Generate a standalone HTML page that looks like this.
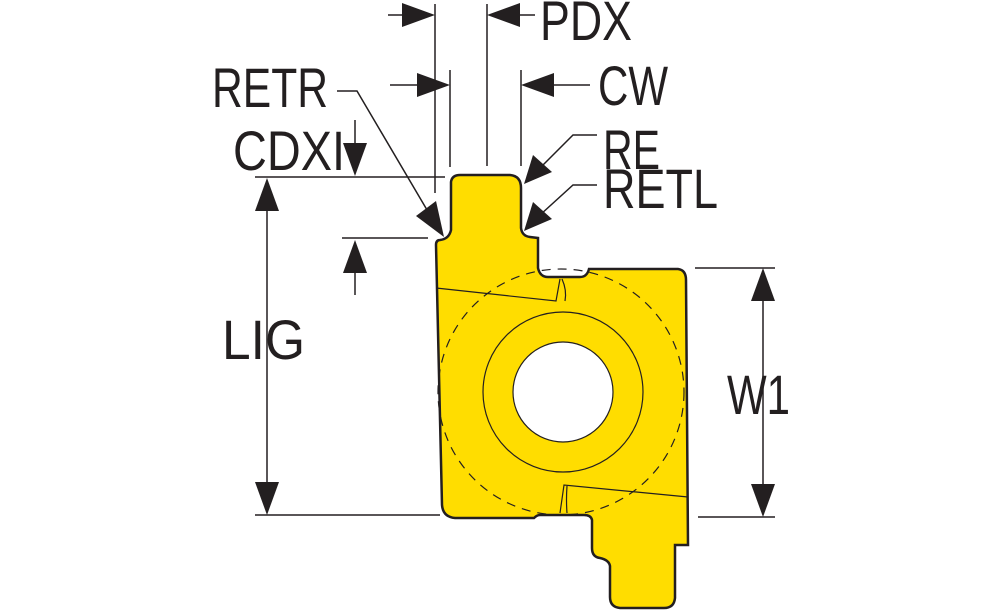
<!DOCTYPE html>
<html><head><meta charset="utf-8"><style>
html,body{margin:0;padding:0;background:#fff;}
svg{display:block;}
text{font-family:"Liberation Sans Narrow","Liberation Sans",sans-serif;font-size:56px;fill:#231f20;}
</style></head><body>
<svg width="1000" height="611" viewBox="0 0 1000 611" xmlns="http://www.w3.org/2000/svg">
<g stroke="#231f20" stroke-width="1.5" fill="none">
<line x1="435" y1="4" x2="435" y2="193"/>
<line x1="487" y1="4" x2="487" y2="166"/>
<line x1="388" y1="15" x2="410" y2="15"/>
<line x1="510" y1="15" x2="535" y2="15"/>
<line x1="450" y1="70" x2="450" y2="167"/>
<line x1="521" y1="70" x2="521" y2="166"/>
<line x1="390" y1="85" x2="420" y2="85"/>
<line x1="550" y1="85" x2="590" y2="85"/>
<polyline points="337,91 357,91 430,215"/>
<line x1="355" y1="120" x2="355" y2="150"/>
<line x1="255" y1="177" x2="445" y2="177"/>
<line x1="342" y1="238" x2="428" y2="238"/>
<line x1="355" y1="265" x2="355" y2="295"/>
<line x1="267" y1="200" x2="267" y2="495"/>
<line x1="255" y1="515" x2="440" y2="515"/>
<line x1="695" y1="268" x2="775" y2="268"/>
<line x1="698" y1="517" x2="775" y2="517"/>
<line x1="763" y1="290" x2="763" y2="495"/>
<polyline points="597,135 573,135 540,168"/>
<polyline points="597,185 573,185 540,215"/>
</g>
<g fill="#231f20">
<polygon points="435,15 402,3 402,27"/>
<polygon points="487,15 520,3 520,27"/>
<polygon points="450,85 417,73 417,97"/>
<polygon points="521,85 554,73 554,97"/>
<polygon points="355,176 343,143 367,143"/>
<polygon points="355,240 343,273 367,273"/>
<polygon points="267,178 255,211 279,211"/>
<polygon points="267,515 255,482 279,482"/>
<polygon points="763,268 751,301 775,301"/>
<polygon points="763,517 751,484 775,484"/>
<polygon points="444,237 416,216 436,201"/>
<polygon points="524,184 533,155 552,172"/>
<polygon points="524,231 533,202 552,219"/>
</g>
<path d="M451,182 Q452,175 460,175 L510,175 Q521,176 521,188 L521,228 Q522,236 530,237 L538,238 L538,268 Q540,277 548,277 L580,277 Q587,277 589,269 L678,269 Q686,270 686,280 L688,545 L675,545 L675,598 Q674,608 664,608 L620,608 Q610,607 610,597 L610,566 Q609,560 600,558 Q592,557 592,548 L592,520 Q591,515 584,515 L540,515 Q537,515 534,518 L455,518 Q443,517 442,505 L436,245 Q436,240 440,240 Q449,239 451,230 Z" fill="#ffdd00" stroke="#231f20" stroke-width="2.5"/>
<g stroke="#231f20" fill="none" stroke-width="1.2">
<polyline points="436,288 556,301 560,279"/>
<path d="M565,301 Q567,290 562,279"/>
<polyline points="688,497 564,485 560,513"/>
<path d="M567,513 Q566,500 567,486"/>
<circle cx="561" cy="392" r="123" stroke-dasharray="9,7"/>
<circle cx="563" cy="392" r="80"/>
</g>
<circle cx="563" cy="392" r="50" fill="#fff" stroke="#231f20" stroke-width="1.2"/>
<text x="540" y="40" textLength="92" lengthAdjust="spacingAndGlyphs">PDX</text>
<text x="598" y="105" textLength="70" lengthAdjust="spacingAndGlyphs">CW</text>
<text x="212" y="107" textLength="116" lengthAdjust="spacingAndGlyphs">RETR</text>
<text x="233" y="170" textLength="112" lengthAdjust="spacingAndGlyphs">CDXI</text>
<text x="603" y="169" textLength="57" lengthAdjust="spacingAndGlyphs">RE</text>
<text x="603" y="208" textLength="115" lengthAdjust="spacingAndGlyphs">RETL</text>
<text x="222" y="359" textLength="83" lengthAdjust="spacingAndGlyphs">LIG</text>
<text x="727" y="414" textLength="63" lengthAdjust="spacingAndGlyphs">W1</text>
</svg>
</body></html>
